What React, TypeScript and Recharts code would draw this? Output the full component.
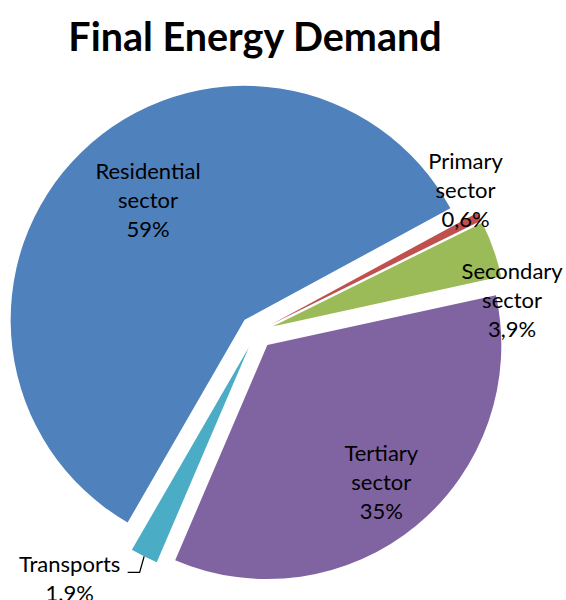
import { Cell, Pie, PieChart } from "recharts"

const sectors = ["Residential sector", "Primary sector", "Secondary sector", "Tertiary sector", "Transports"]
const shares = [59, 0.6, 3.9, 35, 1.9]
const shareLabels = ["59%", "0,6%", "3,9%", "35%", "1.9%"]
const colors = ["#4F81BD", "#C0504D", "#9BBB59", "#8064A2", "#4BACC6"]

// label placement around each slice: fraction of radius + angle tweak
const labelLayout = [
  { f: 0.66, shift: -5.5 },
  { f: 1.01, shift: 7.5 },
  { f: 1.03, shift: -13 },
  { f: 0.76, shift: 0.3 },
  { f: 1.25, shift: -11.2 },
]

const START = 240
const END = -120
const CX = 256.5
const CY = 332
const R = 234
const EXPLODE = 17
const RAD = Math.PI / 180

const data = sectors.map((name, i) => ({ name, value: shares[i], label: shareLabels[i] }))

const total = shares.reduce((a, b) => a + b, 0)
const midAngles = shares.map((v, i) => {
  const before = shares.slice(0, i).reduce((a, b) => a + b, 0)
  return START + ((END - START) * (before + v / 2)) / total
})

const makeLabel = (idx: number) => (props: any) => {
  if (props.index !== idx) return null
  const { cx, cy, midAngle, outerRadius } = props
  const { f, shift } = labelLayout[idx]
  const a = (midAngle + shift) * RAD
  const x = cx + outerRadius * f * Math.cos(a)
  const y = cy - outerRadius * f * Math.sin(a)
  const words = data[idx].name.split(" ")
  const lines = idx === 4 ? [words[0], data[idx].label] : [...words, data[idx].label]
  const n = lines.length
  let leader = null
  if (idx === 4) {
    const ex = cx + outerRadius * Math.cos(midAngle * RAD)
    const ey = cy - outerRadius * Math.sin(midAngle * RAD)
    leader = (
      <polyline
        points={`${ex},${ey} ${x + 70},${y - 6} ${x + 58},${y - 6}`}
        fill="none"
        stroke="#000"
        strokeWidth={1.3}
      />
    )
  }
  return (
    <g>
      {leader}
      <text x={x} y={y} textAnchor="middle" fill="#000" fontSize={22} fontFamily="Lato, 'Open Sans', sans-serif">
        {lines.map((l, k) => (
          <tspan key={k} x={x} y={y + (k - (n - 1) / 2) * 29} dominantBaseline="central">
            {l}
          </tspan>
        ))}
      </text>
    </g>
  )
}

export default function App() {
  return (
    <div style={{ position: "absolute", left: 0, top: 0, width: 566, height: 600, background: "#fff" }}>
      <div
        style={{
          position: "absolute",
          left: 0,
          top: 8,
          width: 510,
          textAlign: "center",
          fontFamily: "Lato, 'Open Sans', sans-serif",
          fontWeight: 700,
          fontSize: 39.5,
          lineHeight: "56px",
          color: "#000",
        }}
      >
        Final Energy Demand
      </div>
      <PieChart width={566} height={600} margin={{ top: 0, right: 0, bottom: 0, left: 0 }}>
        {data.map((_, i) => (
          <Pie
            key={i}
            data={data}
            dataKey="value"
            nameKey="name"
            cx={CX + EXPLODE * Math.cos(midAngles[i] * RAD)}
            cy={CY - EXPLODE * Math.sin(midAngles[i] * RAD)}
            outerRadius={R}
            startAngle={START}
            endAngle={END}
            stroke="none"
            labelLine={false}
            label={makeLabel(i)}
            isAnimationActive={false}
          >
            {data.map((__, j) => (
              <Cell key={j} fill={j === i ? colors[j] : "none"} stroke="none" />
            ))}
          </Pie>
        ))}
      </PieChart>
    </div>
  )
}
